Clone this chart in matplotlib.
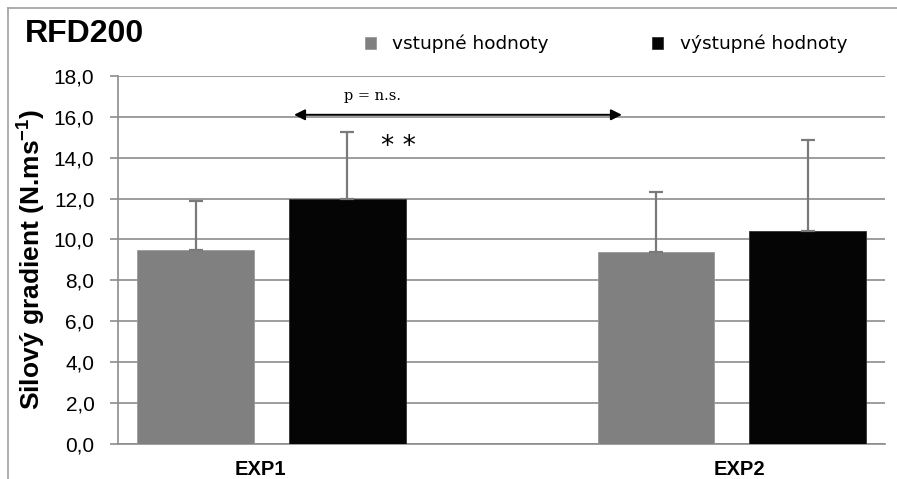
import numpy as np
import matplotlib.pyplot as plt
from matplotlib.lines import Line2D

# data
categories = ["EXP1", "EXP2"]
vstupne = [9.5, 9.37]
vstupne_sd = [2.4, 2.97]
vystupne = [12.0, 10.43]
vystupne_sd = [3.24, 4.43]
yticks = np.arange(0, 18.1, 2)

sans = ["Liberation Sans", "DejaVu Sans"]

fig = plt.figure(figsize=(8.97, 4.79), dpi=100)
ax = fig.add_axes([118 / 897, 1 - 443.5 / 479, 767 / 897, (443.5 - 76) / 479])

x = np.arange(len(categories))
w = 0.254
err_kw = dict(ecolor="#7a7a7a", elinewidth=1.6, capsize=5, capthick=1.6)
ax.bar(x - 0.165, vstupne, w, color="#808080", edgecolor="#999999", linewidth=0.6,
       yerr=[np.zeros(2), vstupne_sd], error_kw=err_kw, zorder=3, label="vstupné hodnoty")
ax.bar(x + 0.165, vystupne, w, color="#050505", edgecolor="#333333", linewidth=0.6,
       yerr=[np.zeros(2), vystupne_sd], error_kw=err_kw, zorder=3, label="výstupné hodnoty")

ax.set_xlim(-1 / 3, 4 / 3 - 0.001)
ax.set_ylim(0, 18)
ax.set_yticks(yticks)
ax.set_yticklabels([("%.1f" % v).replace(".", ",") for v in yticks], family=sans, fontsize=15)
ax.set_xticks(x + np.array([-0.025, 0.017]))
ax.set_xticklabels(categories, family=sans, fontsize=14.5, fontweight="bold")
ax.tick_params(axis="x", length=0, pad=12)
ax.tick_params(axis="y", length=6, color="#8c8c8c", width=1.2, pad=11)
ax.grid(axis="y", color="#8c8c8c", linewidth=1.2, zorder=0)
for s in ["top", "right"]:
    ax.spines[s].set_visible(False)
ax.spines["left"].set_color("#8c8c8c")
ax.spines["bottom"].set_color("#8c8c8c")
ax.spines["left"].set_linewidth(1.2)
ax.spines["bottom"].set_linewidth(1.2)
ax.set_ylabel("Silový gradient (N.ms$^{\\mathregular{-1}}$)", family=sans,
              fontsize=19, fontweight="bold")
ax.yaxis.set_label_coords(-0.093, 0.5)

# significance marks
ax.annotate("", xy=(0.049, 16.1), xytext=(0.761, 16.1),
            arrowprops=dict(arrowstyle="<|-|>", color="black", lw=1.4, mutation_scale=16,
                            shrinkA=0, shrinkB=0))
ax.text(0.22, 17.0, "p = n.s.", fontsize=10.5, family="DejaVu Serif", ha="center", va="center")
ax.text(0.275, 14.5, "* *", fontsize=19, ha="center", va="center", family="DejaVu Sans")

fig.text(25 / 897, 1 - 34 / 479, "RFD200", family=sans, fontsize=23,
         fontweight="bold", va="center")
fig.legend(loc="center left", bbox_to_anchor=(348 / 897, 1 - 44 / 479), ncol=2,
           frameon=False, fontsize=13.3, handlelength=0.6, handleheight=0.6,
           columnspacing=5.6, handletextpad=0.9)

fig.add_artist(Line2D([8 / 897, 1], [1 - 8 / 479, 1 - 8 / 479], color="#a0a0a0", lw=1.2))
fig.add_artist(Line2D([8 / 897, 8 / 897], [0, 1 - 8 / 479], color="#a0a0a0", lw=1.2))

fig.savefig("out.png", dpi=100)
